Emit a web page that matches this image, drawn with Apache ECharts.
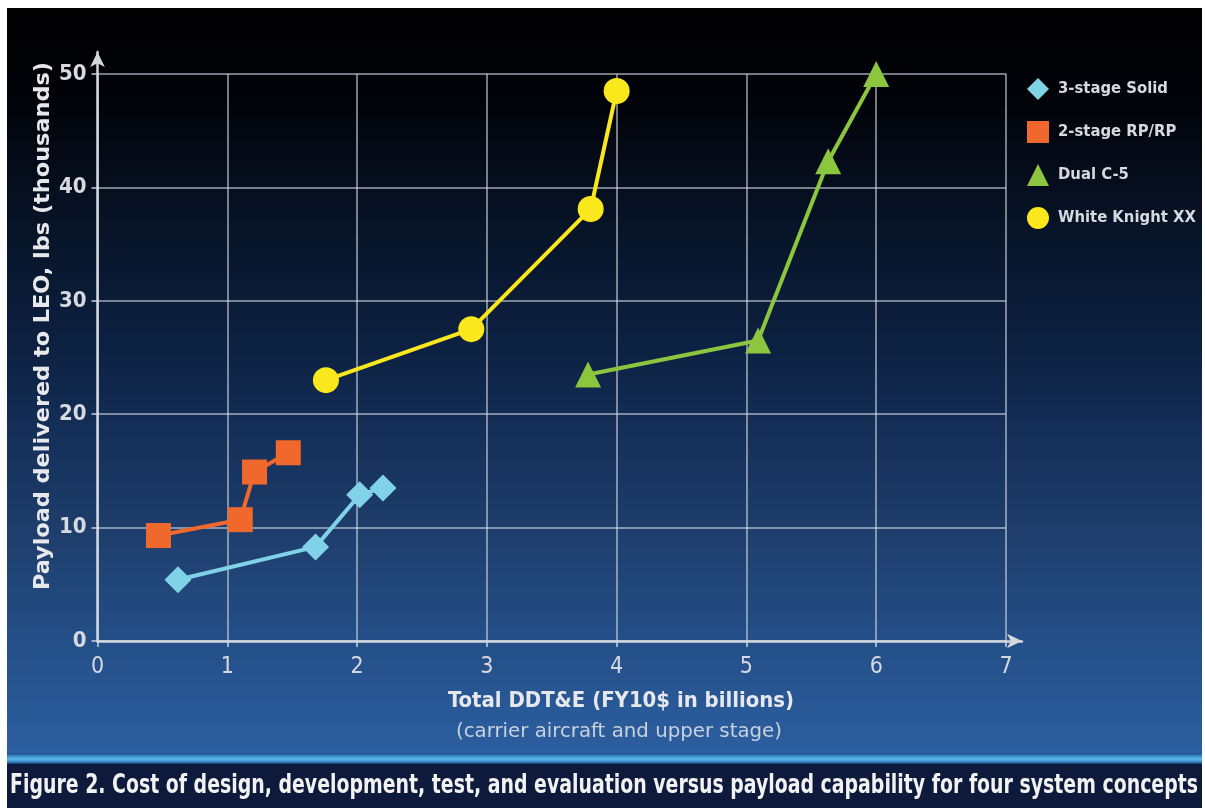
<!DOCTYPE html>
<html>
<head>
<meta charset="utf-8">
<script src="https://cdn.jsdelivr.net/npm/echarts@6/dist/echarts.min.js"></script>
<style>
  html, body { margin: 0; padding: 0; background: #ffffff; }
  #chart { width: 1205px; height: 808px; }
</style>
</head>
<body>
<div id="chart"></div>
<script>
// Axis ticks
const xTicks = [0, 1, 2, 3, 4, 5, 6, 7];
const yTicks = [0, 10, 20, 30, 40, 50];

// Series names
const seriesNames = ['3-stage Solid', '2-stage RP/RP', 'Dual C-5', 'White Knight XX'];

// Total DDT&E (billions) vs payload (thousand lbs) per concept
const solidCost = [0.62, 1.68, 2.02, 2.20];
const solidPayload = [5.4, 8.3, 12.9, 13.5];

const rpCost = [0.47, 1.10, 1.21, 1.47];
const rpPayload = [9.3, 10.7, 14.9, 16.6];

const c5Cost = [3.78, 5.09, 5.63, 6.00];
const c5Payload = [23.5, 26.5, 42.3, 50.0];

const wkCost = [1.76, 2.88, 3.80, 4.00];
const wkPayload = [23.0, 27.5, 38.1, 48.5];

// Text
const xTitle = 'Total DDT&E (FY10$ in billions)';
const xSubtitle = '(carrier aircraft and upper stage)';
const yTitle = 'Payload delivered to LEO, lbs (thousands)';
const caption = 'Figure 2. Cost of design, development, test, and evaluation versus payload capability for four system concepts';

const NARROW = "'Liberation Sans Narrow', 'DejaVu Sans Condensed', 'DejaVu Sans', 'Liberation Sans', sans-serif";
const LABEL = '#d6d9df';

function pairs(xs, ys) { return xs.map((x, i) => [x, ys[i]]); }

// Horizontal scale that stretches or squeezes a string to a given width
function fitScale(text, font, target) {
  const c = document.createElement('canvas').getContext('2d');
  c.font = font;
  return target / c.measureText(text).width;
}

const captionFont = "bold 26px " + NARROW;
const xTitleFont = "bold 22px " + NARROW;
const xSubFont = "20px " + NARROW;
const yTitleFont = "bold 22px " + NARROW;

const chart = echarts.init(document.getElementById('chart'), null, { renderer: 'canvas' });

const gridLine = { show: true, lineStyle: { color: 'rgba(215,220,232,0.55)', width: 2 } };

function lineSeries(name, data, symbol, size, color) {
  return {
    name: name, type: 'line', data: data,
    xAxisIndex: 0, yAxisIndex: 0,
    symbol: symbol, symbolSize: size,
    lineStyle: { color: color, width: 4 },
    itemStyle: { color: color },
    z: 5
  };
}

function centeredText(text, font, fill, x, y, width, rotation) {
  return {
    type: 'text', z: 10, x: x, y: y, rotation: rotation || 0,
    scaleX: fitScale(text, font, width), originX: 0, originY: 0,
    style: { text: text, font: font, fill: fill,
             align: 'center', verticalAlign: 'middle', textAlign: 'center', textVerticalAlign: 'middle' }
  };
}

const option = {
  backgroundColor: '#ffffff',
  animation: false,
  graphic: [
    { type: 'rect', z: -20, shape: { x: 7, y: 8, width: 1195, height: 746 },
      style: { fill: new echarts.graphic.LinearGradient(0, 0, 0, 1, [
        { offset: 0, color: '#010102' },
        { offset: 0.12, color: '#020309' },
        { offset: 0.31, color: '#08152a' },
        { offset: 0.446, color: '#0c2040' },
        { offset: 0.58, color: '#15305a' },
        { offset: 0.714, color: '#1f3f6e' },
        { offset: 0.848, color: '#244f88' },
        { offset: 1, color: '#2c5fa0' }
      ]) } },
    { type: 'rect', z: -20, shape: { x: 7, y: 753, width: 1195, height: 11 },
      style: { fill: new echarts.graphic.LinearGradient(0, 0, 0, 1, [
        { offset: 0, color: '#1f4684' },
        { offset: 0.3, color: '#3d93d2' },
        { offset: 0.55, color: '#5cb6e8' },
        { offset: 0.8, color: '#3a88c8' },
        { offset: 1, color: '#173465' }
      ]) } },
    { type: 'rect', z: -20, shape: { x: 7, y: 764, width: 1195, height: 44 },
      style: { fill: '#0e1a3b' } },
    centeredText(caption, captionFont, '#f2f2f2', 604, 786, 1188),
    centeredText(xTitle, xTitleFont, '#e6e8ec', 621, 701, 346),
    centeredText(xSubtitle, xSubFont, '#c9d2de', 619, 732, 326),
    centeredText(yTitle, yTitleFont, '#e6e8ec', 43, 326, 528, Math.PI / 2)
  ],
  legend: {
    orient: 'vertical', left: 1022, top: 73,
    itemWidth: 22, itemHeight: 22, itemGap: 21,
    textStyle: { color: LABEL, fontSize: 16.5, fontWeight: 'bold', fontFamily: NARROW, padding: [0, 0, 0, 4] },
    data: [
      { name: seriesNames[0], icon: 'diamond', itemStyle: { color: '#80d3e6' } },
      { name: seriesNames[1], icon: 'rect', itemStyle: { color: '#f0682b' } },
      { name: seriesNames[2], icon: 'triangle', itemStyle: { color: '#8cc63f' } },
      { name: seriesNames[3], icon: 'circle', itemStyle: { color: '#fae81c' } }
    ]
  },
  grid: [
    { left: 97.5, right: 199, top: 74, bottom: 167 },
    // frame carrying the arrowed axis lines
    { left: 97.5, right: 183, top: 52, bottom: 167 }
  ],
  xAxis: [
    { type: 'value', gridIndex: 0,
      min: xTicks[0], max: xTicks[xTicks.length - 1], interval: xTicks[1] - xTicks[0],
      axisLine: { show: false },
      axisTick: { show: true, length: 6, lineStyle: { color: 'rgba(215,220,232,0.7)', width: 2 } },
      axisLabel: { color: LABEL, fontSize: 23, fontFamily: NARROW, margin: 15 },
      splitLine: gridLine },
    { type: 'value', gridIndex: 1, min: 0, max: 1,
      axisLine: { show: true, symbol: ['none', 'arrow'], symbolSize: [11, 15],
                  lineStyle: { color: '#d3d7de', width: 2.5 } },
      axisTick: { show: false }, axisLabel: { show: false }, splitLine: { show: false } }
  ],
  yAxis: [
    { type: 'value', gridIndex: 0,
      min: yTicks[0], max: yTicks[yTicks.length - 1], interval: yTicks[1] - yTicks[0],
      axisLine: { show: false },
      axisTick: { show: true, length: 6, lineStyle: { color: 'rgba(215,220,232,0.7)', width: 2 } },
      axisLabel: { color: LABEL, fontSize: 22, fontWeight: 'bold', fontFamily: NARROW, margin: 11 },
      splitLine: gridLine },
    { type: 'value', gridIndex: 1, min: 0, max: 1,
      axisLine: { show: true, symbol: ['none', 'arrow'], symbolSize: [11, 15],
                  lineStyle: { color: '#d3d7de', width: 2.5 } },
      axisTick: { show: false }, axisLabel: { show: false }, splitLine: { show: false } }
  ],
  series: [
    lineSeries(seriesNames[0], pairs(solidCost, solidPayload), 'diamond', 27, '#80d3e6'),
    lineSeries(seriesNames[1], pairs(rpCost, rpPayload), 'rect', 25, '#f0682b'),
    lineSeries(seriesNames[2], pairs(c5Cost, c5Payload), 'triangle', 26, '#8cc63f'),
    lineSeries(seriesNames[3], pairs(wkCost, wkPayload), 'circle', 26, '#fae81c')
  ]
};

chart.setOption(option);
</script>
</body>
</html>
